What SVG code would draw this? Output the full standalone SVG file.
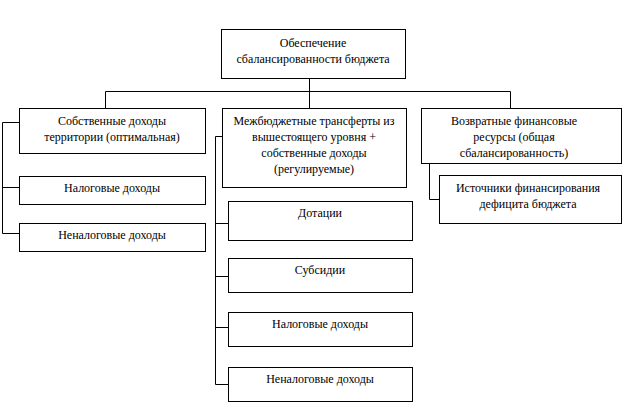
<svg xmlns="http://www.w3.org/2000/svg" width="624" height="406" viewBox="0 0 624 406">
<style>
.n rect{fill:#fff;stroke:#000;stroke-width:1}
text{font-family:"Liberation Serif","Times New Roman",serif;font-size:12px;text-anchor:middle;fill:#000}
.c path{fill:none;stroke:#000;stroke-width:1}
</style>
<rect width="624" height="406" style="fill:#fff;stroke:none"/>
<g class="c">
<path d="M309.5 78V91.5M105.5 108V91.5H510.5V108M309.5 91.5V108"/>
<path d="M19 122.5H2.5V233.5H19M2.5 187.5H19"/>
<path d="M222 136.5H215.5V384.5H228M215.5 223.5H228M215.5 276.5H228M215.5 327.5H228"/>
<path d="M429.5 163V199.5H439"/>
</g>
<g class="n">
<g id="top"><rect x="221.5" y="29.5" width="184" height="49"/><text x="313" y="47">Обеспечение</text><text x="313" y="63">сбалансированности бюджета</text></g>
<g id="own"><rect x="19.5" y="108.5" width="186" height="45"/><text x="112" y="125">Собственные доходы</text><text x="112" y="141">территории (оптимальная)</text></g>
<g id="tax1"><rect x="19.5" y="176.5" width="186" height="28"/><text x="112" y="192">Налоговые доходы</text></g>
<g id="ntax1"><rect x="19.5" y="223.5" width="186" height="28"/><text x="112" y="239">Неналоговые доходы</text></g>
<g id="trans"><rect x="222.5" y="108.5" width="184" height="79"/><text x="314" y="125">Межбюджетные трансферты из</text><text x="314" y="141">вышестоящего уровня +</text><text x="314" y="157">собственные доходы</text><text x="314" y="173">(регулируемые)</text></g>
<g id="ret"><rect x="421.5" y="108.5" width="200" height="55"/><text x="514" y="125">Возвратные финансовые</text><text x="514" y="141">ресурсы (общая</text><text x="514" y="157">сбалансированность)</text></g>
<g id="src"><rect x="439.5" y="175.5" width="182" height="48"/><text x="528" y="192">Источники финансирования</text><text x="528" y="208">дефицита бюджета</text></g>
<g id="dot"><rect x="228.5" y="201.5" width="184" height="39"/><text x="320" y="217">Дотации</text></g>
<g id="sub"><rect x="228.5" y="258.5" width="184" height="34"/><text x="320" y="274">Субсидии</text></g>
<g id="tax2"><rect x="228.5" y="312.5" width="184" height="34"/><text x="320" y="328">Налоговые доходы</text></g>
<g id="ntax2"><rect x="228.5" y="367.5" width="184" height="34"/><text x="320" y="383">Неналоговые доходы</text></g>
</g>
</svg>
